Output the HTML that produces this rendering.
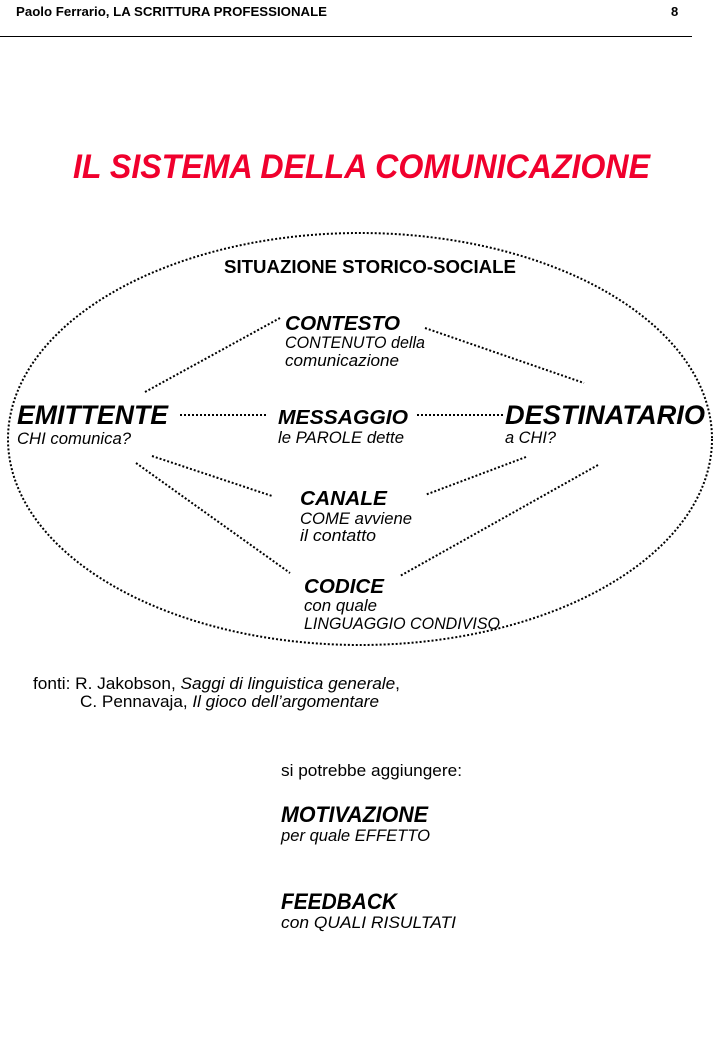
<!DOCTYPE html>
<html><head><meta charset="utf-8"><style>
html,body{margin:0;padding:0;background:#fff;}
svg{display:block;}
text{font-family:"Liberation Sans",Arial,sans-serif;fill:#000;}
.bi{font-weight:bold;font-style:italic;}
.i{font-style:italic;}
.b{font-weight:bold;}
</style></head><body>
<svg width="720" height="1040" viewBox="0 0 720 1040" xmlns="http://www.w3.org/2000/svg">
<text x="16" y="16" class="b" font-size="13" textLength="311" lengthAdjust="spacingAndGlyphs">Paolo Ferrario, LA SCRITTURA PROFESSIONALE</text>
<text x="671" y="16" class="b" font-size="13">8</text>
<line x1="0" y1="36.5" x2="692" y2="36.5" stroke="#000" stroke-width="1"/>
<text x="73" y="178" class="bi" font-size="34" style="fill:#f0002d" textLength="577" lengthAdjust="spacingAndGlyphs">IL SISTEMA DELLA COMUNICAZIONE</text>
<g fill="none" stroke="#000" stroke-width="2" stroke-dasharray="2 2">
<ellipse cx="360" cy="439" rx="352" ry="206"/>
<line x1="145" y1="392" x2="280" y2="318"/>
<line x1="425" y1="328" x2="584" y2="383"/>
<line x1="180" y1="415" x2="268" y2="415"/>
<line x1="417" y1="415" x2="505" y2="415"/>
<line x1="152" y1="456" x2="272" y2="496"/>
<line x1="136" y1="463" x2="290" y2="573"/>
<line x1="526" y1="457" x2="425" y2="495"/>
<line x1="598" y1="465" x2="400" y2="576"/>
</g>
<rect x="222" y="256" width="296" height="22" fill="#fff"/>
<text x="224" y="273" class="b" font-size="18" textLength="292" lengthAdjust="spacingAndGlyphs">SITUAZIONE STORICO-SOCIALE</text>
<text x="285" y="330" class="bi" font-size="20" textLength="115" lengthAdjust="spacingAndGlyphs">CONTESTO</text>
<text x="285" y="348" class="i" font-size="16.5" textLength="140" lengthAdjust="spacingAndGlyphs">CONTENUTO della</text>
<text x="285" y="366" class="i" font-size="16.5" textLength="114" lengthAdjust="spacingAndGlyphs">comunicazione</text>
<text x="17" y="424" class="bi" font-size="27" textLength="151" lengthAdjust="spacingAndGlyphs">EMITTENTE</text>
<text x="17" y="444" class="i" font-size="16.5" textLength="114" lengthAdjust="spacingAndGlyphs">CHI comunica?</text>
<text x="278" y="424" class="bi" font-size="20" textLength="130" lengthAdjust="spacingAndGlyphs">MESSAGGIO</text>
<text x="278" y="443" class="i" font-size="16.5" textLength="126" lengthAdjust="spacingAndGlyphs">le PAROLE dette</text>
<text x="505" y="424" class="bi" font-size="27" textLength="200" lengthAdjust="spacingAndGlyphs">DESTINATARIO</text>
<text x="505" y="443" class="i" font-size="16.5" textLength="51" lengthAdjust="spacingAndGlyphs">a CHI?</text>
<text x="300" y="505" class="bi" font-size="20" textLength="87" lengthAdjust="spacingAndGlyphs">CANALE</text>
<text x="300" y="524" class="i" font-size="16.5" textLength="112" lengthAdjust="spacingAndGlyphs">COME avviene</text>
<text x="300" y="541" class="i" font-size="16.5" textLength="76" lengthAdjust="spacingAndGlyphs">il contatto</text>
<text x="304" y="593" class="bi" font-size="20" textLength="80" lengthAdjust="spacingAndGlyphs">CODICE</text>
<text x="304" y="611" class="i" font-size="16.5" textLength="73" lengthAdjust="spacingAndGlyphs">con quale</text>
<text x="304" y="629" class="i" font-size="16.5" textLength="196" lengthAdjust="spacingAndGlyphs">LINGUAGGIO CONDIVISO</text>
<text x="33" y="689" font-size="16.5" textLength="367" lengthAdjust="spacingAndGlyphs">fonti: R. Jakobson, <tspan class="i">Saggi di linguistica generale</tspan>,</text>
<text x="80" y="707" font-size="16.5" textLength="299" lengthAdjust="spacingAndGlyphs">C. Pennavaja, <tspan class="i">Il gioco dell’argomentare</tspan></text>
<text x="281" y="776" font-size="16.5" textLength="181" lengthAdjust="spacingAndGlyphs">si potrebbe aggiungere:</text>
<text x="281" y="822" class="bi" font-size="22" textLength="147" lengthAdjust="spacingAndGlyphs">MOTIVAZIONE</text>
<text x="281" y="841" class="i" font-size="16.5" textLength="149" lengthAdjust="spacingAndGlyphs">per quale EFFETTO</text>
<text x="281" y="909" class="bi" font-size="22" textLength="116" lengthAdjust="spacingAndGlyphs">FEEDBACK</text>
<text x="281" y="928" class="i" font-size="16.5" textLength="175" lengthAdjust="spacingAndGlyphs">con QUALI  RISULTATI</text>
</svg>
</body></html>
